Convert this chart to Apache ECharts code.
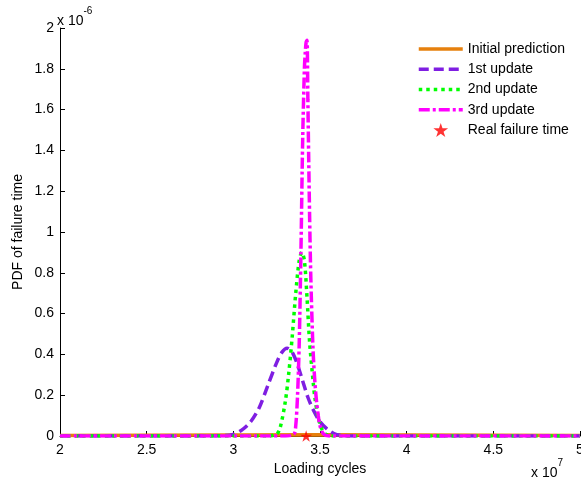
<!DOCTYPE html>
<html>
<head>
<meta charset="utf-8">
<script src="https://cdn.jsdelivr.net/npm/echarts@6/dist/echarts.min.js"></script>
<style>
html,body{margin:0;padding:0;background:#fff;}
#chart{width:581px;height:487px;}
</style>
</head>
<body>
<div id="chart"></div>
<script>
// x in units of 1e7 loading cycles, y in units of 1e-6
var seriesNames = ['Initial prediction', '1st update', '2nd update', '3rd update', 'Real failure time'];

var initialX = [2.0, 2.5, 3.0, 3.5, 4.0, 4.5, 5.0];
var initialY = [0.003, 0.004, 0.005, 0.006, 0.005, 0.004, 0.003];

var update1X = [2.0, 2.8, 2.95, 3.0, 3.05, 3.1, 3.15, 3.2, 3.25, 3.28, 3.31, 3.34, 3.37, 3.4, 3.43, 3.46, 3.5, 3.54, 3.58, 3.62, 3.7, 5.0];
var update1Y = [0, 0, 0.002, 0.008, 0.03, 0.07, 0.14, 0.25, 0.36, 0.41, 0.43, 0.41, 0.35, 0.27, 0.19, 0.13, 0.07, 0.035, 0.012, 0.003, 0, 0];

var update2X = [2.0, 3.2, 3.25, 3.27, 3.3, 3.32, 3.34, 3.36, 3.38, 3.395, 3.41, 3.425, 3.44, 3.46, 3.47, 3.49, 3.51, 3.53, 3.56, 5.0];
var update2Y = [0, 0, 0.01, 0.04, 0.17, 0.31, 0.49, 0.7, 0.86, 0.9, 0.86, 0.68, 0.46, 0.27, 0.19, 0.09, 0.035, 0.01, 0, 0];

var update3X = [2.0, 3.3, 3.35, 3.36, 3.37, 3.38, 3.39, 3.4, 3.41, 3.415, 3.42, 3.425, 3.43, 3.435, 3.44, 3.445, 3.45, 3.46, 3.47, 3.48, 3.49, 3.5, 3.52, 3.55, 5.0];
var update3Y = [0, 0, 0.01, 0.05, 0.19, 0.45, 0.9, 1.45, 1.8, 1.88, 1.93, 1.94, 1.65, 1.35, 1.08, 0.85, 0.68, 0.42, 0.27, 0.17, 0.1, 0.05, 0.01, 0, 0];

var realFailureX = [3.42];
var realFailureY = [0];

var xTicks = [2, 2.5, 3, 3.5, 4, 4.5, 5];
var yTicks = [0, 0.2, 0.4, 0.6, 0.8, 1, 1.2, 1.4, 1.6, 1.8, 2];

function pairs(xs, ys) { return xs.map(function (x, i) { return [x, ys[i]]; }); }

var FONT = 'Liberation Sans, Arial, sans-serif';
var starPath = 'path://M50,0 L61.8,36.2 L100,36.2 L69.1,58.8 L80.9,95.1 L50,72.7 L19.1,95.1 L30.9,58.8 L0,36.2 L38.2,36.2 Z';
var hideSym = {opacity: 0};
var LW = 3.5;

var chart = echarts.init(document.getElementById('chart'), null, {renderer: 'canvas'});
chart.setOption({
  animation: false,
  backgroundColor: '#ffffff',
  grid: {left: 60, right: 1, top: 28, bottom: 51, containLabel: false, outerBoundsMode: 'none'},
  xAxis: {
    type: 'value', min: xTicks[0], max: xTicks[xTicks.length - 1], interval: 0.5,
    name: 'Loading cycles', nameLocation: 'middle', nameGap: 20,
    nameTextStyle: {fontFamily: FONT, fontSize: 14, color: '#000'},
    axisLine: {show: true, onZero: false, lineStyle: {color: '#000', width: 1}},
    axisTick: {show: true, inside: true, length: 5, lineStyle: {color: '#000'}},
    axisLabel: {fontFamily: FONT, fontSize: 14, color: '#000', margin: 7},
    splitLine: {show: false}
  },
  yAxis: {
    type: 'value', min: yTicks[0], max: yTicks[yTicks.length - 1], interval: 0.2,
    name: 'PDF of failure time', nameLocation: 'middle', nameGap: 35, nameMoveOverlap: false,
    nameTextStyle: {fontFamily: FONT, fontSize: 14, color: '#000'},
    axisLine: {show: true, lineStyle: {color: '#000', width: 1}},
    axisTick: {show: true, inside: true, length: 5, lineStyle: {color: '#000'}},
    axisLabel: {fontFamily: FONT, fontSize: 14, color: '#000', margin: 6},
    splitLine: {show: false}
  },
  legend: {
    orient: 'vertical', left: 417, top: 42, padding: 0,
    itemWidth: 44, itemHeight: 14, itemGap: 6.25,
    textStyle: {fontFamily: FONT, fontSize: 14, color: '#000'},
    lineStyle: {width: LW},
    data: [
      {name: seriesNames[0], itemStyle: hideSym},
      {name: seriesNames[1], itemStyle: hideSym},
      {name: seriesNames[2], itemStyle: hideSym},
      {name: seriesNames[3], itemStyle: hideSym},
      {name: seriesNames[4]}
    ]
  },
  graphic: [
    {type: 'text', left: 57, top: 6, style: {
      text: '{a|x 10}{b|-6}', fill: '#000',
      rich: {a: {fontFamily: FONT, fontSize: 14, verticalAlign: 'bottom', padding: [8, 0, 0, 0]},
             b: {fontFamily: FONT, fontSize: 10, verticalAlign: 'top'}}
    }},
    {type: 'text', left: 531, top: 458, style: {
      text: '{a|x 10}{b|7}', fill: '#000',
      rich: {a: {fontFamily: FONT, fontSize: 14, verticalAlign: 'bottom', padding: [8, 0, 0, 0]},
             b: {fontFamily: FONT, fontSize: 10, verticalAlign: 'top'}}
    }}
  ],
  series: [
    {name: seriesNames[0], type: 'line', symbol: 'none', smooth: false,
     data: pairs(initialX, initialY), z: 2,
     lineStyle: {color: '#e6800d', width: LW, type: 'solid'}, itemStyle: {color: '#e6800d'}},
    {name: seriesNames[1], type: 'line', symbol: 'none', smooth: 0.3,
     data: pairs(update1X, update1Y), z: 3,
     lineStyle: {color: '#7f1ee2', width: LW, type: [10, 5], cap: 'butt'}, itemStyle: {color: '#7f1ee2'}},
    {name: seriesNames[2], type: 'line', symbol: 'none', smooth: 0.3,
     data: pairs(update2X, update2Y), z: 4,
     lineStyle: {color: '#00ff00', width: LW, type: [3.5, 4], cap: 'butt'}, itemStyle: {color: '#00ff00'}},
    {name: seriesNames[3], type: 'line', symbol: 'none', smooth: 0.3,
     data: pairs(update3X, update3Y), z: 5,
     lineStyle: {color: '#ff00ff', width: LW, type: [11, 3, 3, 3], cap: 'butt'}, itemStyle: {color: '#ff00ff'}},
    {name: seriesNames[4], type: 'scatter', symbol: starPath, symbolSize: 12, symbolKeepAspect: true,
     data: pairs(realFailureX, realFailureY), z: 6, clip: false,
     itemStyle: {color: '#ff0000'}}
  ]
});
</script>
</body>
</html>
